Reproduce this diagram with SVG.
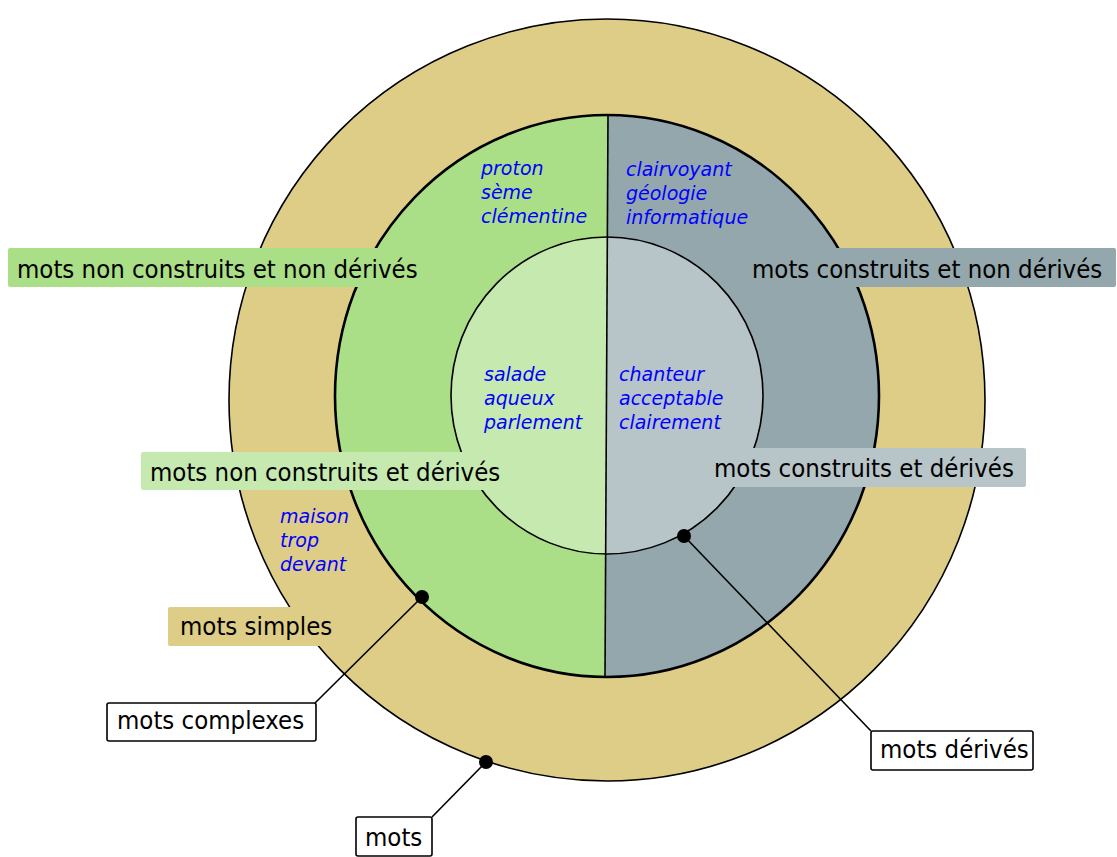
<svg xmlns="http://www.w3.org/2000/svg" width="1117" height="857" viewBox="0 0 1117 857">
  <style>
    .lbl { font-family: "DejaVu Sans Condensed", "DejaVu Sans", sans-serif; font-stretch: condensed; font-size: 25.5px; fill: #000; }
    .ex { font-family: "DejaVu Sans", sans-serif; font-style: oblique; font-size: 19px; fill: #0000ff; }
    .box { fill: #fff; stroke: #000; stroke-width: 1.6; }
    .conn { stroke: #000; stroke-width: 1.6; fill: none; }
    .dot { fill: #000; }
  </style>
  <defs>
    <clipPath id="leftHalf"><polygon points="0,0 608.6,0 604,857 0,857"/></clipPath>
    <clipPath id="rightHalf"><polygon points="608.6,0 1117,0 1117,857 604,857"/></clipPath>
  </defs>

  <rect width="1117" height="857" fill="#fff"/>

  <!-- outer ring: all words -->
  <g id="mots-ring">
    <ellipse cx="607" cy="400" rx="378" ry="381" fill="#decd87" stroke="#000" stroke-width="1.6"/>
  </g>

  <!-- middle disc: non-derived words, split into non-constructed / constructed -->
  <g id="non-derives">
    <ellipse cx="607" cy="396" rx="272" ry="281" fill="#aade87" clip-path="url(#leftHalf)"/>
    <ellipse cx="607" cy="396" rx="272" ry="281" fill="#93a7ac" clip-path="url(#rightHalf)"/>
    <ellipse cx="607" cy="396" rx="272" ry="281" fill="none" stroke="#000" stroke-width="2.6"/>
  </g>

  <!-- inner disc: derived words -->
  <g id="derives">
    <ellipse cx="607" cy="395.5" rx="156" ry="158.5" fill="#c6e9af" clip-path="url(#leftHalf)"/>
    <ellipse cx="607" cy="395.5" rx="156" ry="158.5" fill="#b7c4c8" clip-path="url(#rightHalf)"/>
    <ellipse cx="607" cy="395.5" rx="156" ry="158.5" fill="none" stroke="#000" stroke-width="1.6"/>
  </g>

  <!-- vertical split between non-constructed and constructed -->
  <line x1="608" y1="115" x2="605" y2="677" stroke="#000" stroke-width="1.6"/>

  <!-- example words -->
  <g id="exemples">
    <text class="ex" x="481" y="175">proton</text>
    <text class="ex" x="481" y="199">sème</text>
    <text class="ex" x="481" y="223">clémentine</text>
    <text class="ex" x="626" y="176">clairvoyant</text>
    <text class="ex" x="626" y="200">géologie</text>
    <text class="ex" x="626" y="224">informatique</text>
    <text class="ex" x="484" y="381">salade</text>
    <text class="ex" x="484" y="405">aqueux</text>
    <text class="ex" x="484" y="429">parlement</text>
    <text class="ex" x="619" y="381">chanteur</text>
    <text class="ex" x="619" y="405">acceptable</text>
    <text class="ex" x="619" y="429">clairement</text>
    <text class="ex" x="280" y="523">maison</text>
    <text class="ex" x="280" y="547">trop</text>
    <text class="ex" x="280" y="571">devant</text>
  </g>

  <!-- coloured region labels -->
  <g id="label-non-construits-non-derives">
    <rect x="8" y="248" width="424" height="39" rx="2" fill="#aade87"/>
    <text class="lbl" x="17" y="278">mots non construits et non dérivés</text>
  </g>
  <g id="label-construits-non-derives">
    <rect x="742" y="248" width="374" height="39" rx="2" fill="#93a7ac"/>
    <text class="lbl" x="752" y="278">mots construits et non dérivés</text>
  </g>
  <g id="label-non-construits-derives">
    <rect x="141" y="452" width="372" height="38" rx="2" fill="#c6e9af"/>
    <text class="lbl" x="150" y="481">mots non construits et dérivés</text>
  </g>
  <g id="label-construits-derives">
    <rect x="706" y="448" width="320" height="39" rx="2" fill="#b7c4c8"/>
    <text class="lbl" x="714" y="477">mots construits et dérivés</text>
  </g>
  <g id="label-simples">
    <rect x="168" y="607" width="178" height="39" rx="2" fill="#decd87"/>
    <text class="lbl" x="180" y="635">mots simples</text>
  </g>

  <!-- leader lines -->
  <g id="connectors">
    <line class="conn" x1="422" y1="597" x2="315" y2="703"/>
    <line class="conn" x1="684" y1="536" x2="871" y2="731"/>
    <line class="conn" x1="486" y1="762" x2="432" y2="817"/>
    <circle class="dot" cx="422" cy="597" r="7"/>
    <circle class="dot" cx="684" cy="536" r="7"/>
    <circle class="dot" cx="486" cy="762" r="7"/>
  </g>

  <!-- boxed set labels -->
  <g id="label-complexes">
    <rect class="box" x="107" y="703" width="209" height="38" rx="2"/>
    <text class="lbl" x="117" y="729">mots complexes</text>
  </g>
  <g id="label-derives">
    <rect class="box" x="871" y="731" width="162" height="39" rx="2"/>
    <text class="lbl" x="880" y="758">mots dérivés</text>
  </g>
  <g id="label-mots">
    <rect class="box" x="356" y="817" width="76" height="39" rx="2"/>
    <text class="lbl" x="365" y="846">mots</text>
  </g>
</svg>
